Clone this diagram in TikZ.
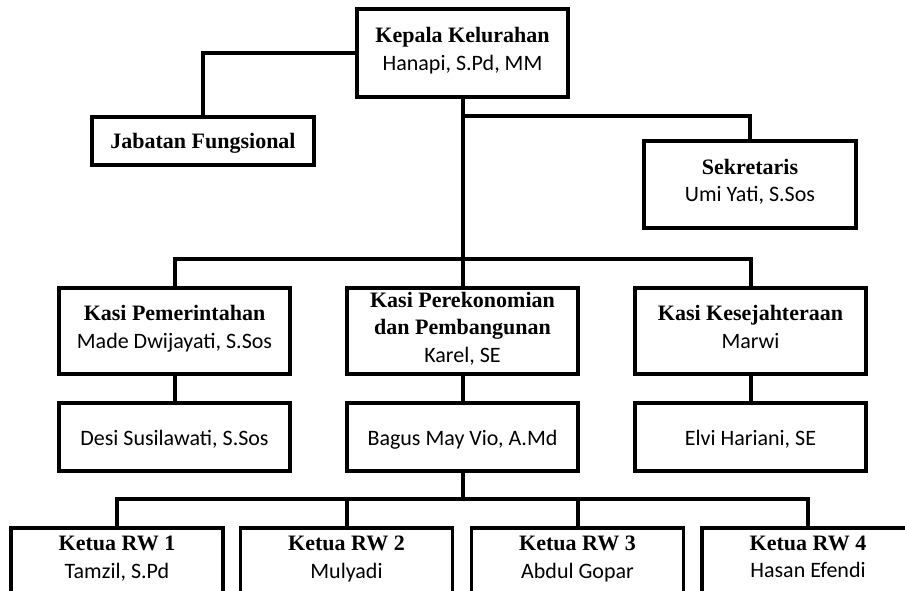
\documentclass[tikz,border=0pt]{standalone}
\usepackage{fontspec}
\setmainfont{Carlito}
\newfontfamily\judulfont{Liberation Serif}
\newcommand{\tegak}{\rule[-8pt]{0pt}{32pt}}
\usepackage{tikz}

\begin{document}
\begin{tikzpicture}[x=1pt, y=-1pt, every node/.style={font=\fontsize{22}{27.5}\selectfont, align=center, execute at begin node=\tegak, execute at end node=\tegak}, box/.style={draw, line width=3.2pt, inner sep=0pt, minimum width=231pt}, link/.style={line width=4pt}]
	\useasboundingbox (0,0) rectangle (905,591);
	\clip (0,0) rectangle (905,591);
	\node[box, minimum width=211pt, minimum height=88pt] (kepala) at (462.5,53) {{\judulfont\bfseries Kepala Kelurahan}\\Hanapi, S.Pd, MM};
	\node[box, minimum width=222pt, minimum height=48pt] (fungsional) at (203,141) {\judulfont\bfseries Jabatan Fungsional};
	\node[box, minimum width=212pt, minimum height=87pt] (sekretaris) at (750,184.5) {{\judulfont\bfseries Sekretaris}\\Umi Yati, S.Sos};
	\node[box, minimum height=86pt] (kasi1) at (174.5,331) {{\judulfont\bfseries Kasi Pemerintahan}\\Made Dwijayati, S.Sos};
	\node[box, minimum height=86pt] (kasi2) at (462.5,331) {{\judulfont\bfseries Kasi Perekonomian}\\{\judulfont\bfseries dan Pembangunan}\\Karel, SE};
	\node[box, minimum height=86pt] (kasi3) at (750.5,331) {{\judulfont\bfseries Kasi Kesejahteraan}\\Marwi};
	\node[box, minimum height=68pt] (staf1) at (174.5,437) {Desi Susilawati, S.Sos};
	\node[box, minimum height=68pt] (staf2) at (462.5,437) {Bagus May Vio, A.Md};
	\node[box, minimum height=68pt] (staf3) at (750.5,437) {Elvi Hariani, SE};
	\node[box, minimum width=212pt, minimum height=66pt] (rw1) at (117,561) {{\judulfont\bfseries Ketua RW 1}\\Tamzil, S.Pd};
	\node[box, minimum width=212pt, minimum height=66pt] (rw2) at (346.5,561) {{\judulfont\bfseries Ketua RW 2}\\Mulyadi};
	\node[box, minimum width=212pt, minimum height=66pt] (rw3) at (577.5,561) {{\judulfont\bfseries Ketua RW 3}\\Abdul Gopar};
	\node[box, minimum width=212pt, minimum height=66pt] (rw4) at (808,561) {{\judulfont\bfseries Ketua RW 4}\\Hasan Efendi};
	\coordinate (bagi1) at (462.5,116);
	\coordinate (bagi2) at (462.5,259);
	\coordinate (bagi3) at (462.5,499);
	\draw[link] (kepala.west) -| (fungsional.north);
	\draw[link] (kepala.south) -- (kasi2.north);
	\draw[link] (bagi1) -| (sekretaris.north);
	\draw[link] (kasi1.north) |- (bagi2) -| (kasi3.north);
	\foreach \i in {1,2,3}
		\draw[link] (kasi\i.south) -- (staf\i.north);
	\draw[link] (staf2.south) -- (bagi3);
	\draw[link] (rw1.north) |- (bagi3) -| (rw4.north);
	\foreach \i in {2,3}
		\draw[link] (rw\i.north) -- (rw\i.north |- bagi3);
\end{tikzpicture}
\end{document}
